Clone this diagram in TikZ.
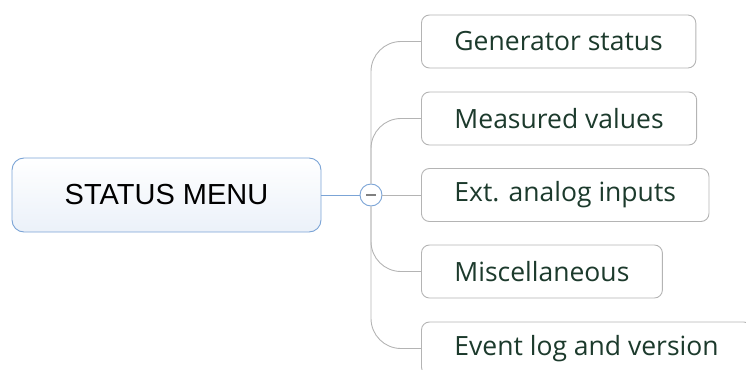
\documentclass[tikz,border=0pt]{standalone}
\usepackage{fontspec}
\setmainfont{Open Sans}
\newfontfamily\menufont{Liberation Sans}
\usetikzlibrary{positioning}
\definecolor{menublue}{HTML}{7BA4D6}
\definecolor{menufill}{HTML}{EBF1F9}
\definecolor{itemgray}{HTML}{B4B4B4}
\definecolor{itemtext}{HTML}{1C3A2C}

\begin{document}
\begin{tikzpicture}[x=1pt,y=-1pt,
	mainnode/.style={draw=menublue, line width=0.9pt, rounded corners=12pt, top color=white, bottom color=menufill, minimum width=309pt, minimum height=74pt, font=\menufont\fontsize{29}{31}\selectfont, text=black},
	itemnode/.style={draw=itemgray, line width=0.9pt, rounded corners=8pt, fill=white, anchor=west, minimum height=53pt, inner xsep=33pt, font=\fontsize{26.5}{30}\selectfont, text=itemtext},
	togglenode/.style={circle, draw=menublue, line width=0.9pt, fill=white, minimum size=22pt, inner sep=0pt},
	branch/.style={draw=itemgray, line width=0.9pt, rounded corners=30pt},
	]
	\clip (0,0) rectangle (746,369);
	%Nodes
	\node[mainnode]   (menu)  at (166.5,195) {STATUS MENU};
	\node[togglenode] (tog)   at (371,195)   {};
	\node[itemnode]   (gen)   at (421,41.5)  {Generator status};
	\node[itemnode]   (meas)  at (421,118.5) {Measured values};
	\node[itemnode]   (ext)   at (421,195)   {Ext. analog inputs};
	\node[itemnode]   (misc)  at (421,271.5) {Miscellaneous};
	\node[itemnode]   (event) at (421,348.5) {Event log and version};

	\draw[draw=menublue, line width=0.9pt] (menu.east) -- (tog.west);
	\draw[draw=gray, line width=1.2pt] ([xshift=-5pt]tog.center) -- ([xshift=5pt]tog.center);

	\draw[branch] (tog.north) |- (gen.west);
	\draw[branch] (tog.north) |- (meas.west);
	\draw[branch] (tog.east) -- (ext.west);
	\draw[branch] (tog.south) |- (misc.west);
	\draw[branch] (tog.south) |- (event.west);
\end{tikzpicture}
\end{document}
